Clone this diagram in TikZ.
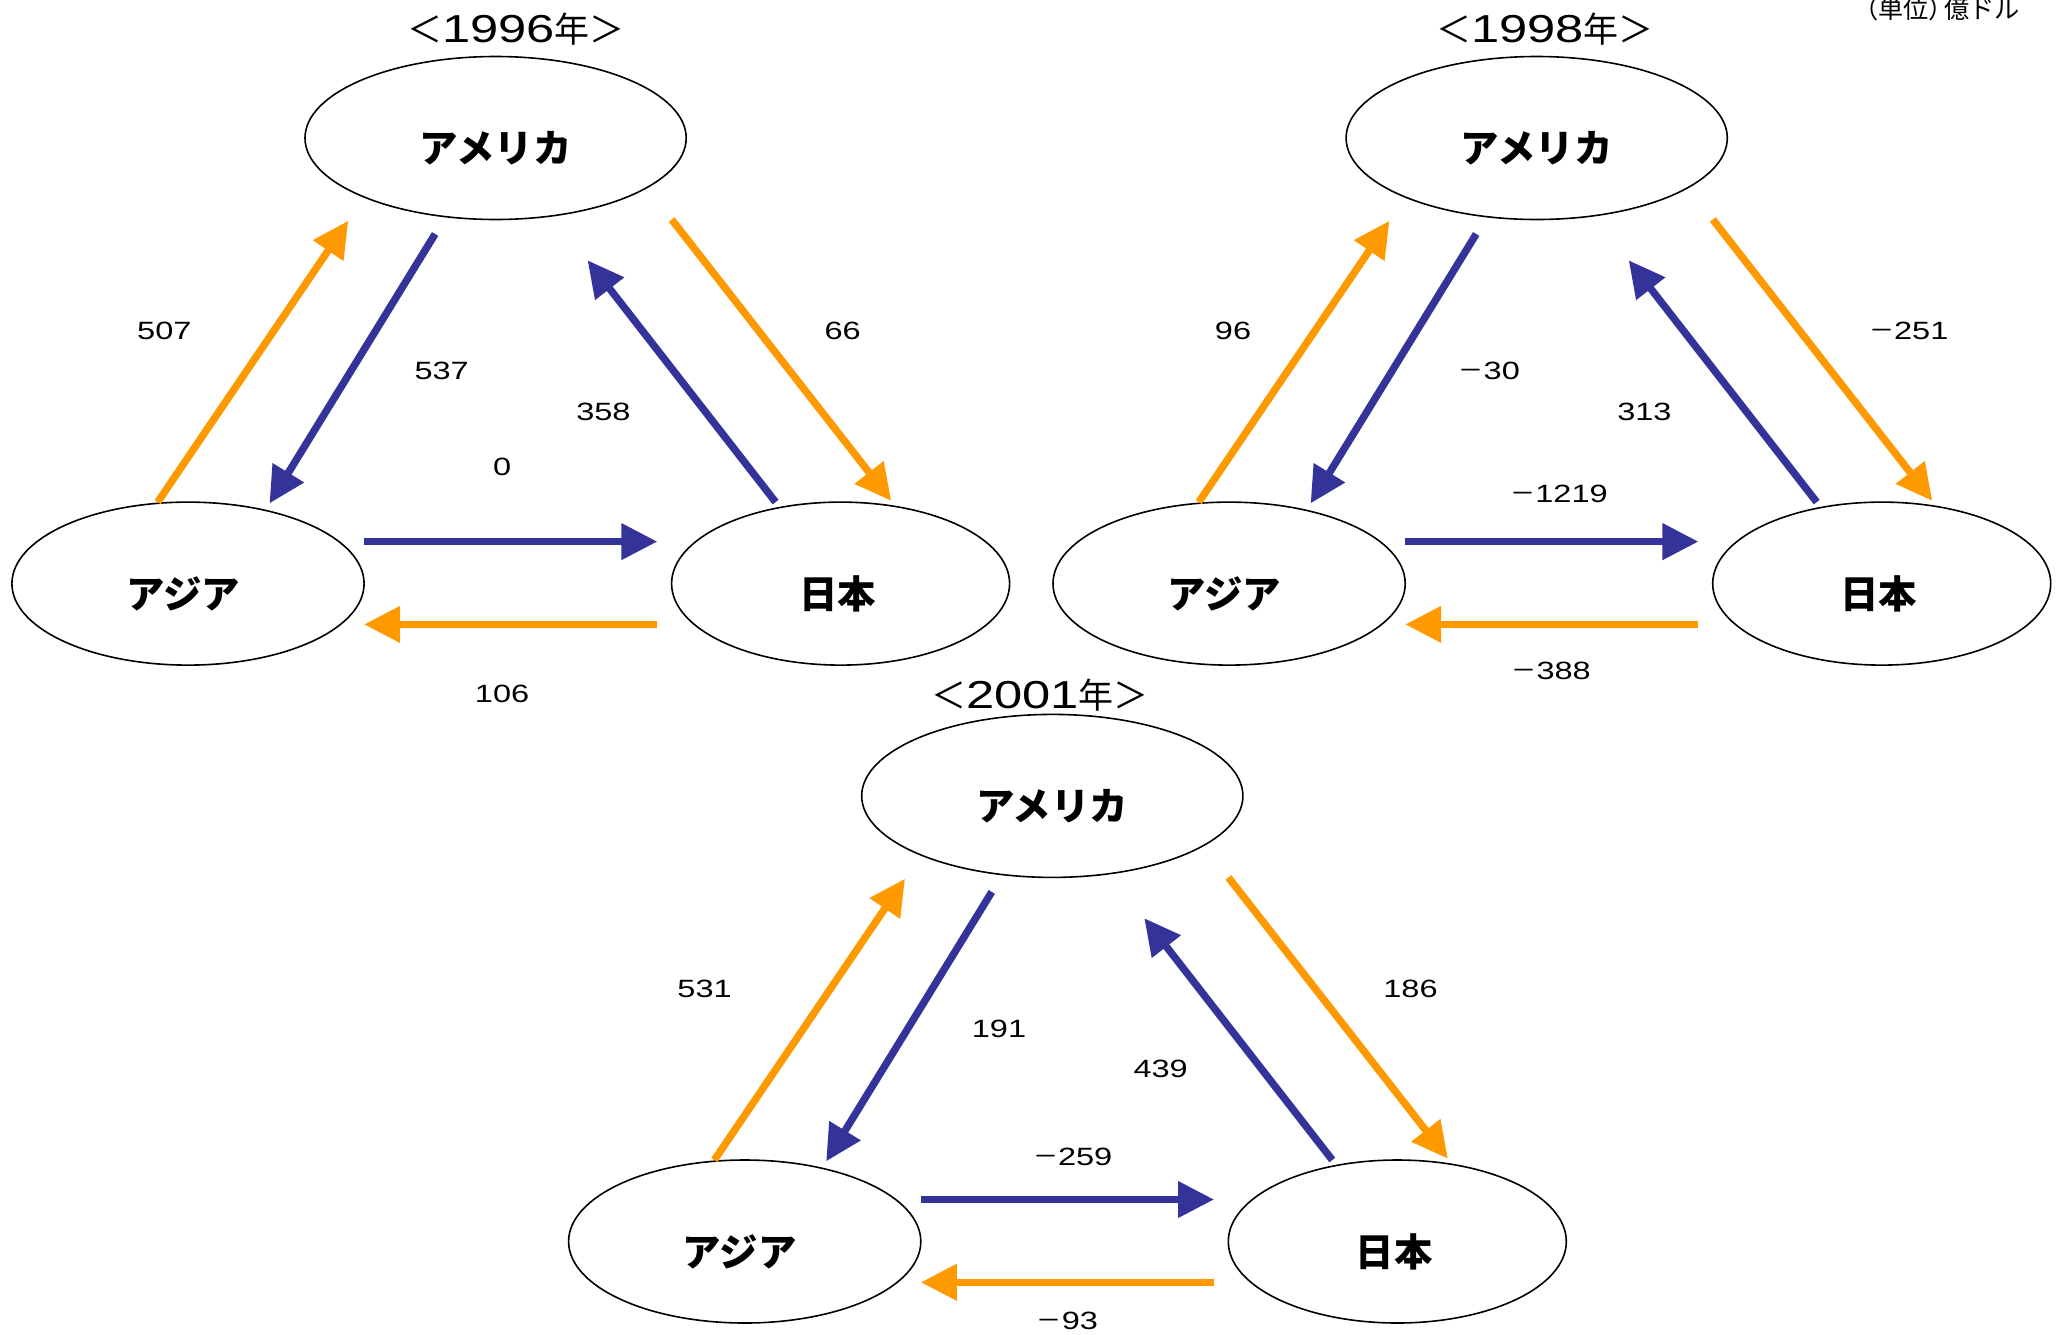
\documentclass[tikz,border=0pt]{standalone}
\usepackage{fontspec}
\usetikzlibrary{shapes.geometric,arrows.meta}
\newfontfamily\jpfnt{Noto Sans CJK JP}
\newfontfamily\numfnt[FakeStretch=1.3]{Liberation Sans}
\definecolor{blu}{HTML}{333399}
\definecolor{orng}{HTML}{FF9900}
\newcommand\mns{{\jpfnt －}}
\newcommand\ttltext[1]{{\jpfnt\fontsize{17.5}{20}\selectfont ＜}{\numfnt\fontsize{19.5}{24}\selectfont #1}{\jpfnt\fontsize{17.5}{20}\selectfont 年＞}}
\tikzset{
  cty/.style={draw=black, line width=0.8pt, ellipse, minimum height=81.5pt, inner sep=0pt},
  ctytxt/.style={font=\jpfnt\bfseries\fontsize{19.2}{23}\selectfont, yshift=-5pt, inner sep=0pt},
  barr/.style={draw=blu, line width=3.7pt, -{Triangle[length=18pt,width=17.5pt]}},
  oarr/.style={draw=orng, line width=3.7pt, -{Triangle[length=18pt,width=17.5pt]}},
  val/.style={font=\numfnt\fontsize{12.5}{15}\selectfont, inner sep=0pt},
  ttl/.style={inner sep=0pt},
}
\newcommand\tripanel[3]{%
\begin{scope}[shift={(#2,#3)}]
  \node[cty, minimum width=190.6pt, label={[ctytxt]center:アメリカ}] (us#1) at (495.6,138.0) {};
  \node[cty, minimum width=176.1pt, label={[ctytxt, xshift=-2.5pt]center:アジア}] (as#1) at (188.0,583.6) {};
  \node[cty, minimum width=169.0pt, label={[ctytxt, xshift=-1.5pt]center:日本}] (jp#1) at (840.6,583.6) {};
  \coordinate (oa1#1) at (157.7,502.1); \coordinate (oa2#1) at (348.3,220.8);
  \coordinate (bu1#1) at (435.1,234.0); \coordinate (bu2#1) at (269.5,503.4);
  \coordinate (bj1#1) at (775.6,502.1); \coordinate (bj2#1) at (587.6,260.3);
  \coordinate (ou1#1) at (671.7,219.5); \coordinate (ou2#1) at (891.2,500.8);
  \coordinate (ba1#1) at (364.1,541.6); \coordinate (ba2#1) at (657.3,541.6);
  \coordinate (oj1#1) at (657.3,624.4); \coordinate (oj2#1) at (364.1,624.4);
  \draw[oarr] (oa1#1) -- (oa2#1);
  \draw[barr] (bu1#1) -- (bu2#1);
  \draw[barr] (bj1#1) -- (bj2#1);
  \draw[oarr] (ou1#1) -- (ou2#1);
  \draw[barr] (ba1#1) -- (ba2#1);
  \draw[oarr] (oj1#1) -- (oj2#1);
\end{scope}}
\begin{document}
\begin{tikzpicture}[x=0.5pt,y=-0.5pt]
\useasboundingbox (0,0) rectangle (2061,1334);
\fill[white] (0,0) rectangle (2061,1334);
\tripanel{A}{0}{0}
\tripanel{B}{1041.1}{0}
\tripanel{C}{556.7}{657.9}
% titles
\node[ttl] (tA) at (516,29) {\ttltext{1996}};
\node[ttl] (tB) at (1545,29) {\ttltext{1998}};
\node[ttl] (tC) at (1040,695.5) {\ttltext{2001}};
\node[font=\jpfnt\fontsize{12.6}{14}\selectfont, anchor=base east, inner sep=0pt] (unit) at (2020,18) {（単位）\kern-0.4em 億ドル};
% 1996 values
\node[val] (vA1) at (164.3,331.3) {507};
\node[val] (vA2) at (441.7,370.7) {537};
\node[val] (vA3) at (603.4,411.4) {358};
\node[val] (vA4) at (842.6,331.3) {66};
\node[val] (vA5) at (502.1,466.6) {0};
\node[val] (vA6) at (502.1,694.1) {106};
% 1998 values
\node[val] (vB1) at (1233.0,331.3) {96};
\node[val] (vB2) at (1489.3,370.7) {\mns30};
\node[val] (vB3) at (1644.4,411.4) {313};
\node[val] (vB4) at (1908.7,331.3) {\mns251};
\node[val] (vB5) at (1559.0,494.3) {\mns1219};
\node[val] (vB6) at (1551.1,670.4) {\mns388};
% 2001 values
\node[val] (vC1) at (704.6,988.5) {531};
\node[val] (vC2) at (999.0,1029.3) {191};
\node[val] (vC3) at (1160.7,1068.7) {439};
\node[val] (vC4) at (1410.5,988.5) {186};
\node[val] (vC5) at (1072.6,1156.8) {\mns259};
\node[val] (vC6) at (1067.4,1321.1) {\mns93};
\end{tikzpicture}
\end{document}
